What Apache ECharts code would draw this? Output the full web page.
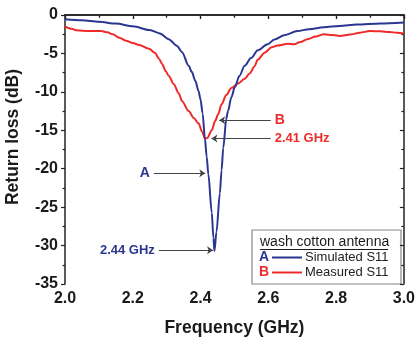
<!DOCTYPE html>
<html>
<head>
<meta charset="utf-8">
<script src="https://cdn.jsdelivr.net/npm/echarts@6/dist/echarts.min.js"></script>
<style>html,body{margin:0;padding:0;background:#fff}#c{width:418px;height:342px}</style>
</head>
<body>
<div id="c"></div>
<script>
// Frequency (GHz) vs return loss (dB)
var simulatedS11 = [
 [2.00,-0.54],[2.05,-0.68],[2.10,-0.88],[2.15,-1.12],[2.20,-1.48],[2.25,-1.95],[2.28,-2.4],
 [2.306,-3.14],[2.33,-4.0],[2.345,-4.81],[2.365,-6.6],[2.374,-7.4],[2.385,-8.6],[2.394,-9.9],
 [2.40,-11.0],[2.406,-12.8],[2.413,-16.1],[2.418,-18.4],[2.423,-20.7],[2.433,-25.7],[2.438,-29.0],
 [2.441,-30.7],[2.447,-28.2],[2.457,-23.2],[2.462,-20.2],[2.467,-17.3],[2.476,-13.5],[2.481,-12.5],
 [2.491,-10.7],[2.501,-9.4],[2.515,-7.9],[2.530,-6.6],[2.549,-5.6],[2.569,-4.6],[2.598,-3.8],
 [2.618,-3.2],[2.647,-2.62],[2.686,-2.09],[2.72,-1.85],[2.764,-1.59],[2.81,-1.42],[2.861,-1.25],
 [2.93,-1.1],[3.0,-0.97]
];
var measuredS11 = [
 [2.00,-1.47],[2.02,-1.8],[2.034,-2.0],[2.07,-2.08],[2.107,-2.09],[2.125,-2.25],[2.141,-2.51],
 [2.16,-2.95],[2.18,-3.35],[2.20,-3.65],[2.219,-3.89],[2.248,-4.39],[2.265,-4.9],[2.277,-5.65],
 [2.287,-6.4],[2.297,-7.3],[2.306,-7.9],[2.321,-9.0],[2.336,-10.2],[2.345,-11.2],[2.365,-12.5],
 [2.38,-13.4],[2.394,-14.1],[2.405,-15.2],[2.413,-16.1],[2.42,-16.0],[2.433,-15.0],[2.443,-13.8],
 [2.452,-12.9],[2.462,-11.6],[2.476,-10.4],[2.491,-9.5],[2.511,-8.9],[2.53,-8.3],[2.545,-7.6],
 [2.559,-6.7],[2.569,-5.8],[2.589,-4.9],[2.61,-4.2],[2.627,-3.97],[2.657,-3.75],[2.676,-3.8],
 [2.695,-3.5],[2.715,-3.14],[2.74,-2.8],[2.764,-2.51],[2.79,-2.6],[2.812,-2.72],[2.841,-2.55],
 [2.87,-2.3],[2.9,-2.09],[2.93,-2.12],[2.958,-2.22],[2.98,-2.3],[3.0,-2.42]
];
// annotation arrows: [label, fromX, toX, y]
var annotA = ['A', 2.262, 2.414, -20.6];
var annot244 = ['2.44 GHz', 2.277, 2.437, -30.6];
var annotB = ['B', 2.607, 2.455, -13.7];
var annot241 = ['2.41 GHz', 2.607, 2.432, -16.06];
var legendTitle = 'wash cotton antenna';
var seriesNames = ['Simulated S11', 'Measured S11'];
var seriesKeys = ['A', 'B'];

var BLUE = '#2B3592', RED = '#EE2A2A', FONT = '"Liberation Sans", Arial, sans-serif';

function arrow(a, size) {
  return [
    {coord: [a[1], a[3]], label: {formatter: a[0], fontSize: size}},
    {coord: [a[2], a[3]]}
  ];
}
function mark(items, color) {
  return {
    silent: true, animation: false,
    symbol: ['none', 'arrow'], symbolSize: 6,
    lineStyle: {color: '#444', width: 1, type: 'solid'},
    label: {show: true, position: 'start', distance: 4, color: color, fontFamily: FONT, fontWeight: 'bold', fontSize: 13},
    data: items
  };
}

var chart = echarts.init(document.getElementById('c'));
var axisLine = {show: true, lineStyle: {color: '#222', width: 1.5}};
var tickStyle = {color: '#222', width: 1.2};
chart.setOption({
  animation: false,
  grid: {left: 65, right: 11, top: 15, bottom: 48},
  xAxis: [{
    type: 'value', min: 2, max: 3, interval: 0.2, position: 'bottom',
    axisLine: axisLine, splitLine: {show: false},
    axisTick: {show: true, inside: false, length: 4, lineStyle: tickStyle},
    minorTick: {show: true, splitNumber: 2, length: 2.5, lineStyle: tickStyle},
    axisLabel: {margin: 7, color: '#1a1a1a', fontFamily: FONT, fontWeight: 'bold', fontSize: 16,
      formatter: function (v) { return v.toFixed(1); }},
    name: 'Frequency (GHz)', nameLocation: 'middle', nameGap: 35,
    nameTextStyle: {color: '#1a1a1a', fontFamily: FONT, fontWeight: 'bold', fontSize: 17.5}
  }, {
    type: 'value', min: 2, max: 3, interval: 0.2, position: 'top',
    axisLine: axisLine, splitLine: {show: false}, axisLabel: {show: false},
    axisTick: {show: true, inside: true, length: 4, lineStyle: tickStyle},
    minorTick: {show: true, splitNumber: 2, length: 2.5, lineStyle: tickStyle}
  }],
  yAxis: [{
    type: 'value', min: -35, max: 0, interval: 5, position: 'left',
    axisLine: axisLine, splitLine: {show: false},
    axisTick: {show: true, inside: false, length: 4, lineStyle: tickStyle},
    minorTick: {show: true, splitNumber: 2, length: 2.5, lineStyle: tickStyle},
    axisLabel: {margin: 7, color: '#1a1a1a', fontFamily: FONT, fontWeight: 'bold', fontSize: 16}
  }, {
    type: 'value', min: -35, max: 0, interval: 5, position: 'right',
    axisLine: axisLine, splitLine: {show: false}, axisLabel: {show: false},
    axisTick: {show: true, inside: true, length: 4, lineStyle: tickStyle},
    minorTick: {show: true, splitNumber: 2, length: 2.5, lineStyle: tickStyle}
  }],
  series: [{
    name: seriesNames[0], type: 'line', data: simulatedS11, showSymbol: false,
    smooth: 0.3, smoothMonotone: 'x',
    lineStyle: {color: BLUE, width: 2}, itemStyle: {color: BLUE}, z: 3,
    markLine: mark([arrow(annotA, 14), arrow(annot244, 13)], BLUE)
  }, {
    name: seriesNames[1], type: 'line', data: measuredS11, showSymbol: false,
    smooth: 0.3, smoothMonotone: 'x',
    lineStyle: {color: RED, width: 2}, itemStyle: {color: RED}, z: 2,
    markLine: mark([arrow(annotB, 14), arrow(annot241, 13)], RED)
  }],
  graphic: [
    {type: 'text', x: 13, y: 137, rotation: Math.PI / 2, z: 10,
      style: {text: 'Return loss (dB)', fill: '#1a1a1a', font: 'bold 17.5px ' + FONT, textAlign: 'center', textVerticalAlign: 'middle'}},
    {type: 'group', x: 252, y: 230, z: 20, children: [
      {type: 'rect', shape: {x: 0, y: 0, width: 149, height: 54}, style: {fill: '#fff', stroke: '#888', lineWidth: 1.2}},
      {type: 'text', x: 8, y: 12, style: {text: legendTitle, fill: '#1a1a1a', font: '14px ' + FONT, textVerticalAlign: 'middle'}},
      {type: 'line', shape: {x1: 8, y1: 19.5, x2: 136, y2: 19.5}, style: {stroke: '#1a1a1a', lineWidth: 1}},
      {type: 'text', x: 7, y: 27.5, style: {text: seriesKeys[0], fill: BLUE, font: 'bold 14px ' + FONT, textVerticalAlign: 'middle'}},
      {type: 'line', shape: {x1: 20, y1: 27.5, x2: 50, y2: 27.5}, style: {stroke: BLUE, lineWidth: 2}},
      {type: 'text', x: 53, y: 27.5, style: {text: seriesNames[0], fill: '#222', font: '13px ' + FONT, textVerticalAlign: 'middle'}},
      {type: 'text', x: 7, y: 42.5, style: {text: seriesKeys[1], fill: RED, font: 'bold 14px ' + FONT, textVerticalAlign: 'middle'}},
      {type: 'line', shape: {x1: 20, y1: 42.5, x2: 50, y2: 42.5}, style: {stroke: RED, lineWidth: 2}},
      {type: 'text', x: 53, y: 42.5, style: {text: seriesNames[1], fill: '#222', font: '13px ' + FONT, textVerticalAlign: 'middle'}}
    ]}
  ]
});
</script>
</body>
</html>
